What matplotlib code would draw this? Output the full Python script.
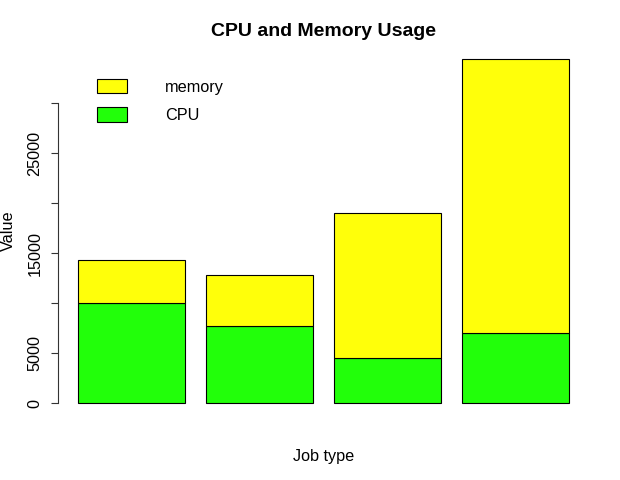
import matplotlib
matplotlib.use('Agg')
import matplotlib.pyplot as plt
import matplotlib.patches as mpatches
import numpy as np

plt.rcParams['font.family'] = ['Liberation Sans', 'DejaVu Sans']

# data
jobs = ['1', '2', '3', '4']
cpu = [10000, 7700, 4500, 7000]
memory = [4300, 5100, 14500, 27400]
yticks = [0, 5000, 10000, 15000, 20000, 25000, 30000]
ytick_labels = ['0', '5000', '', '15000', '', '25000', '']

col_cpu = '#22ff0a'
col_mem = '#ffff0a'
fs = 11.7

fig = plt.figure(figsize=(6.2, 4.8), dpi=100)
ax = fig.add_axes([58.4 / 620, 1 - 416.8 / 480, 530.2 / 620, 371.6 / 480])

# R barplot style positions: width 1, space 0.2
x = 0.2 + np.arange(len(jobs)) * 1.2 + 0.5
ax.bar(x, cpu, width=1, color=col_cpu, edgecolor='black', linewidth=0.8)
ax.bar(x, memory, width=1, bottom=cpu, color=col_mem, edgecolor='black', linewidth=0.8)

total_max = max(c + m for c, m in zip(cpu, memory))
ax.set_xlim(0.2 - 0.04 * 4.6, 4.8 + 0.04 * 4.6)
ax.set_ylim(-0.04 * total_max, 1.04 * total_max)

for s in ['top', 'right', 'bottom']:
    ax.spines[s].set_visible(False)
ax.spines['left'].set_bounds(0, 30000)
ax.spines['left'].set_linewidth(0.8)
ax.spines['left'].set_color('#333333')
ax.set_xticks([])
ax.set_yticks(yticks)
ax.set_yticklabels(ytick_labels, rotation=90, va='center', fontsize=fs)
ax.tick_params(axis='y', length=5, width=0.8, pad=6.5, color='#333333')

fig.text(323.5 / 620, 1 - 31 / 480, 'CPU and Memory Usage', ha='center', va='center',
         fontsize=14, fontweight='bold')
fig.text(8 / 620, 1 - 231 / 480, 'Value', rotation=90, ha='center', va='center', fontsize=fs)
fig.text(323.5 / 620, 1 - 456 / 480, 'Job type', ha='center', va='center', fontsize=fs)

handles = [mpatches.Patch(facecolor=col_mem, edgecolor='black', linewidth=0.8),
           mpatches.Patch(facecolor=col_cpu, edgecolor='black', linewidth=0.8)]
fig.legend(handles, ['memory', 'CPU'], loc='upper left',
           bbox_to_anchor=(97 / 620, 1 - 79 / 480), frameon=False, fontsize=fs,
           handlelength=1.84, handleheight=0.98, handletextpad=2.33,
           labelspacing=0.78, borderpad=0, borderaxespad=0)

fig.savefig('out.png', dpi=100)
